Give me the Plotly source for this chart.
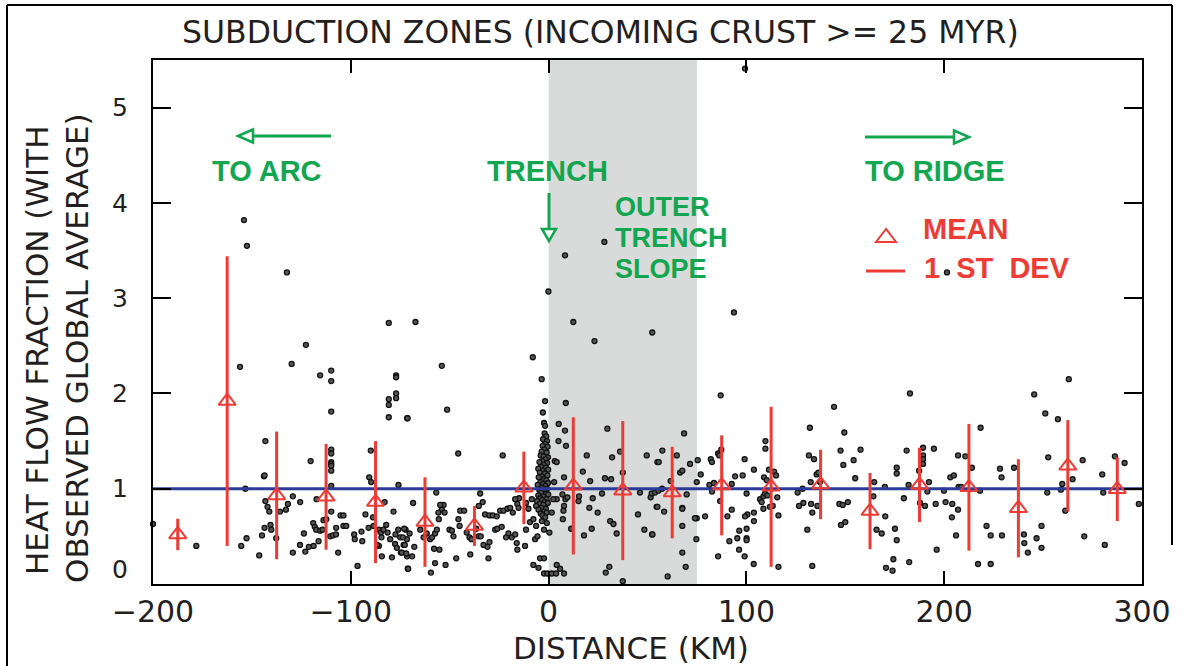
import plotly.graph_objects as go

# ---------------- data ----------------
DOT_X = [
    # far arc side
    -200.0, -178.1, -80.8, -122.7, -156.0, -129.9, -115.5, -109.9, -109.9, -109.9,
    -77.1, -77.1, -77.1, -77.1, -80.8, -80.8, -80.8, -71.5, -143.2, -120.3,
    -109.9, -109.9, -109.9, -109.9, -109.9, -109.9, -109.9, -143.9, -143.6, -89.9,
    -90.7, -89.7, -153.3, -75.9, -143.2, -142.1, -141.2, -135.8, -132.8, -131.8,
    -129.3, -125.6, -117.3, -143.6, -140.6, -140.2, -144.9, -137.7, -146.3, -152.7,
    -155.4, -129.3, -125.7, -123.7, -123.0, -121.2, -118.8, -116.3, -119.0, -118.2,
    -117.5, -115.5, -113.8, -112.4, -114.3, -109.9, -110.4, -109.1, -107.5, -107.4,
    -106.4, -105.2, -103.7, -103.7, -102.3, -98.3, -98.0, -94.2, -94.6, -92.6,
    -91.0, -88.8, -88.5, -96.6, -85.8, -84.8, -83.5, -84.5, -81.4, -82.1,
    -82.9, -78.4, -80.1, -76.0, -75.0, -77.4, -77.6, -76.7, -73.3, -72.3,
    -71.6, -85.8, -86.7, -84.3, -79.2, -74.7, -71.6, -71.2,
    # forearc near trench
    -67.3, -54.0, -51.3, -71.3, -45.7, -23.2, -8.0, -3.5, -1.8, -2.9,
    -2.3, -1.8, -56.8, -68.5, -53.1, -54.8, -54.0, -52.6, -55.7, -55.5,
    -44.7, -42.7, -34.6, -33.3, -35.3, -32.1, -29.9, -28.2, -26.2, -24.5,
    -22.8, -20.8, -19.4, -18.1, -15.8, -15.2, -14.9, -16.9, -11.4, -10.2,
    -8.5, -73.0, -73.7, -70.3, -72.7, -74.2, -72.0, -69.0, -67.9, -71.0,
    -64.9, -63.2, -61.6, -59.9, -58.9, -57.4, -56.5, -57.9, -55.2, -57.4,
    -59.5, -52.1, -46.7, -50.1, -48.9, -48.1, -45.6, -45.0, -41.4, -40.0,
    -39.0, -39.6, -36.6, -35.4, -34.3, -32.9, -30.9, -29.9, -30.4, -27.0,
    -25.9, -23.7, -20.3, -18.6, -21.5, -16.9, -16.1, -15.8, -11.9, -11.4,
    -9.4, -7.7, -6.8, -5.6, -6.3, -3.4, -2.3, -0.9, 0.4, -4.3,
    -2.3, -7.7, -5.1, -2.3, -0.6, 1.6, 3.8, 4.1, 5.8, 7.8,
    # trench cluster
    -2.0, -1.2, -2.8, -0.8, -1.8, -3.0, -0.5, -2.2, -3.5, -1.0,
    -4.0, -2.5, -0.3, -1.6, -3.2, -4.6, -0.8, -2.4, -3.8, -5.2,
    -1.4, -0.2, -2.9, -4.4, -1.9, -0.6, -3.5, -5.0, -2.3, -1.1,
    -4.1, -0.3, -2.8, -5.5, -1.6, -3.4, -0.8, -4.7, -2.1, -3.8,
    -1.3, -0.2, -5.2, -2.7, -4.2, -1.0, -3.2, -5.8, -1.9, -0.4,
    -4.5, -2.6, -6.3, -3.6, -1.4, -5.1, -2.4, -0.9, -4.0, -3.0,
    -1.7,
    # outer trench slope
    12.5, 23.2, 52.4, 8.7, 5.1, 8.3, 8.8, 5.0, 3.1, 4.1,
    7.8, 17.3, 19.3, 21.0, 29.7, 32.1, 28.5, 31.6, 36.1, 37.5,
    49.6, 55.0, 2.8, 7.0, 8.5, 7.8, 7.5, 7.2, 4.1, 2.4,
    1.6, 15.4, 15.1, 11.4, 17.9, 20.6, 22.3, 21.8, 24.8, 27.0,
    31.1, 32.8, 34.4, 46.2, 45.2, 48.4, 52.3, 51.6, 54.6, 28.9,
    30.7, 37.5, 9.5,
    # oceanward
    93.7, 87.0, 144.3, 132.1, 149.5, 68.5, 57.5, 55.7, 64.8, 66.5,
    67.6, 71.5, 75.4, 76.9, 74.9, 82.0, 82.6, 85.7, 86.3, 87.3,
    81.3, 83.6, 82.6, 92.6, 94.3, 98.1, 99.1, 103.8, 109.6, 109.6,
    108.9, 110.3, 111.4, 114.0, 115.0, 100.1, 106.9, 107.7, 108.6, 109.4,
    110.6, 115.6, 108.6, 111.9, 113.3, 116.2, 103.8, 100.5, 99.3, 103.8,
    100.1, 96.4, 95.4, 100.1, 100.1, 91.4, 96.3, 99.1, 103.7, 116.2,
    85.7, 90.4, 92.6, 86.7, 79.1, 74.9, 74.0, 74.7, 67.6, 67.6,
    69.8, 58.4, 55.0, 52.1, 53.8, 55.5, 57.4, 61.7, 67.6, 52.5,
    67.6, 69.3, 60.2, 125.9, 128.4, 126.6, 128.8, 132.7, 131.6, 134.2,
    132.5, 135.5, 136.4, 137.2, 133.3, 130.8, 135.9, 133.3, 147.6, 149.0,
    155.0, 154.2, 157.7, 147.0, 148.7, 151.3, 147.8, 150.0, 164.6, 164.2,
    170.0, 170.2, 165.8, 168.4, 176.0, 176.0, 175.1, 176.0, 174.3, 170.6,
    173.9, 179.6, 181.0, 182.0, 182.3,
    182.7, 263.0, 245.5, 251.1, 257.5, 218.4, 189.3, 189.3, 189.3, 189.3,
    194.8, 187.3, 192.3, 191.5, 187.8, 190.3, 195.7, 199.9, 200.7, 204.1,
    203.1, 204.9, 207.0, 210.7, 214.0, 207.3, 208.6, 218.1, 203.9, 207.0,
    206.0, 196.2, 217.1, 223.5, 221.4, 223.5, 229.2, 228.2, 229.0, 235.3,
    240.3, 240.5, 242.3, 246.7, 249.2, 249.2, 252.6, 252.1, 259.7, 259.0,
    261.2, 264.9, 270.0, 270.8, 279.9, 280.4, 281.2, 286.3, 291.2, 298.4,
    # high values
    -154.0, -152.5, -132.3, 8.3, 28.2, -0.1, 99.3, 201.4,
]

DOT_Y = [
    0.63, 0.40, 2.74, 2.51, 2.28, 2.31, 2.19, 2.24, 2.13, 1.81,
    2.19, 2.17, 2.00, 1.95, 1.94, 1.88, 1.75, 1.74, 1.50, 1.29,
    1.41, 1.37, 1.28, 1.26, 1.24, 1.19, 1.03, 1.13, 1.14, 1.40,
    1.12, 1.07, 1.00, 1.04, 0.87, 0.81, 0.76, 0.76, 0.78, 0.84,
    0.92, 0.86, 0.89, 0.59, 0.62, 0.57, 0.51, 0.48, 0.30, 0.48,
    0.40, 0.33, 0.41, 0.53, 0.34, 0.39, 0.40, 0.45, 0.64, 0.60,
    0.57, 0.56, 0.67, 0.68, 0.57, 0.76, 0.50, 0.51, 0.52, 0.59,
    0.33, 0.72, 0.72, 0.61, 0.61, 0.52, 0.47, 0.45, 0.55, 0.73,
    0.59, 0.70, 0.61, 0.19, 0.57, 0.54, 0.57, 0.49, 0.54, 0.62,
    0.86, 0.76, 0.47, 0.57, 0.49, 0.52, 0.42, 0.38, 0.41, 0.57,
    0.47, 0.40, 0.41, 0.29, 0.28, 0.33, 0.29, 0.16,
    2.75, 2.29, 1.83, 1.74, 1.37, 1.35, 2.38, 2.15, 1.92, 1.80,
    1.69, 1.66, 0.96, 0.85, 0.83, 0.83, 0.78, 0.75, 0.75, 0.68,
    0.77, 0.77, 0.95, 0.86, 0.82, 0.73, 0.72, 0.72, 0.71, 0.77,
    0.77, 0.79, 0.80, 0.75, 0.84, 0.80, 0.90, 0.89, 0.85, 0.79,
    0.89, 0.58, 0.49, 0.53, 0.41, 0.33, 0.32, 0.29, 0.39, 0.16,
    0.57, 0.49, 0.53, 0.47, 0.49, 0.53, 0.57, 0.37, 0.36, 0.22,
    0.12, 0.20, 0.27, 0.57, 0.56, 0.50, 0.68, 0.61, 0.54, 0.49,
    0.47, 0.31, 0.58, 0.50, 0.50, 0.41, 0.39, 0.44, 0.27, 0.57,
    0.58, 0.60, 0.53, 0.49, 0.49, 0.52, 0.43, 0.36, 0.40, 0.57,
    0.65, 0.68, 0.47, 0.50, 0.61, 0.66, 0.57, 0.64, 0.54, 0.27,
    0.27, 0.20, 0.17, 0.11, 0.11, 0.11, 0.11, 0.20, 0.16, 0.11,
    1.58, 1.55, 1.52, 1.50, 1.47, 1.45, 1.44, 1.41, 1.39, 1.38,
    1.35, 1.34, 1.33, 1.31, 1.29, 1.28, 1.27, 1.25, 1.23, 1.21,
    1.22, 1.20, 1.19, 1.17, 1.16, 1.14, 1.13, 1.12, 1.10, 1.09,
    1.07, 1.06, 1.05, 1.04, 1.03, 1.01, 1.00, 0.99, 0.98, 0.96,
    0.95, 0.94, 0.93, 0.92, 0.90, 0.89, 0.88, 0.87, 0.86, 0.85,
    0.84, 0.83, 0.82, 0.80, 0.79, 0.78, 0.76, 0.75, 0.74, 0.72,
    0.70,
    2.75, 2.55, 2.64, 1.90, 1.68, 1.61, 1.45, 1.50, 1.29, 1.28,
    1.12, 1.18, 1.35, 1.08, 1.63, 1.33, 1.11, 1.10, 1.39, 1.17,
    1.35, 1.28, 1.07, 0.94, 0.89, 0.82, 0.77, 0.68, 0.89, 0.89,
    0.75, 0.92, 0.87, 0.58, 0.51, 0.80, 0.90, 0.58, 0.75, 0.95,
    0.66, 0.63, 0.53, 0.96, 0.73, 0.57, 0.52, 0.91, 0.81, 0.12,
    0.18, 0.03, 0.91,
    2.85, 1.98, 1.86, 1.64, 1.59, 1.58, 1.40, 1.28, 1.35, 1.17,
    1.19, 1.26, 1.30, 1.15, 1.07, 1.31, 1.28, 1.37, 1.35, 1.41,
    1.04, 1.06, 0.97, 1.05, 1.13, 1.14, 1.31, 1.20, 1.50, 1.42,
    1.12, 1.09, 1.20, 1.18, 1.14, 0.95, 0.89, 0.86, 0.92, 0.95,
    0.93, 0.91, 0.79, 0.81, 0.82, 0.72, 0.75, 0.73, 0.71, 0.66,
    0.58, 0.56, 0.48, 0.48, 0.46, 0.45, 0.36, 0.29, 0.21, 0.18,
    0.29, 0.71, 0.78, 0.87, 0.71, 0.69, 0.69, 0.47, 0.80, 0.79,
    0.94, 0.76, 0.81, 0.95, 0.96, 0.98, 1.00, 1.08, 0.61, 0.52,
    0.33, 0.18, 0.08, 0.96, 1.00, 0.82, 0.85, 0.84, 1.35, 1.31,
    1.07, 1.15, 1.17, 1.07, 0.75, 0.57, 0.82, 0.19, 1.40, 1.25,
    1.11, 1.30, 1.41, 0.84, 0.83, 0.86, 0.62, 0.65, 1.07, 0.92,
    1.02, 0.71, 0.57, 0.53, 1.22, 1.16, 0.58, 0.46, 0.26, 0.17,
    0.14, 0.90, 1.40, 1.04, 0.23,
    2.00, 2.15, 1.99, 1.79, 1.73, 1.64, 1.43, 1.35, 1.31, 1.26,
    1.42, 1.19, 1.07, 0.97, 0.85, 0.82, 0.84, 0.98, 0.86, 0.84,
    1.12, 1.14, 1.35, 1.34, 1.22, 1.02, 1.02, 0.98, 0.70, 0.78,
    0.51, 0.36, 0.21, 0.21, 0.61, 0.51, 0.51, 1.21, 1.12, 1.22,
    0.52, 0.43, 0.33, 0.48, 0.61, 0.38, 1.33, 0.96, 1.05, 0.99,
    0.77, 1.10, 1.30, 0.50, 1.15, 0.96, 0.41, 1.34, 1.27, 0.84,
    3.82, 3.55, 3.27, 3.45, 3.59, 3.07, 5.41, 3.27,
]

BIN_CENTERS = [-187.5, -162.5, -137.5, -112.5, -87.5, -62.5, -37.5, -12.5, 12.5, 37.5,
               62.5, 87.5, 112.5, 137.5, 162.5, 187.5, 212.5, 237.5, 262.5, 287.5]
BIN_MEAN = [0.52, 1.92, 0.93, 0.915, 0.86, 0.65, 0.61, 1.01, 1.03, 0.98,
            0.96, 1.035, 1.02, 1.045, 0.765, 1.04, 1.015, 0.795, 1.24, 0.995]
BIN_STD = [0.165, 1.52, 0.67, 0.555, 0.64, 0.47, 0.21, 0.38, 0.72, 0.73,
           0.48, 0.525, 0.84, 0.365, 0.40, 0.39, 0.665, 0.515, 0.48, 0.335]

REF_LEVEL = 1.0
SLOPE_ZONE = [0, 75]
X_RANGE = [-200, 300]
Y_RANGE = [0, 5.5]
X_TICKS = [-200, -100, 0, 100, 200, 300]
X_TICKTEXT = ["\u2212200", "\u2212100", "0", "100", "200", "300"]
Y_TICKS = [1, 2, 3, 4, 5]
Y_TICKTEXT = ["1", "2", "3", "4", "5"]

# ---------------- styling ----------------
W, H = 1184, 666
L, R, T, B = 153, 1142, 60, 584
BLACK = "#231f20"
GREEN = "#12a650"
RED = "#ee3b33"
BLUE = "#2b3c98"
GRAY = "#d9dada"
FONT = "DejaVu Sans"
BFONT = "Liberation Sans"


def pxx(px):
    return (px - L) / (R - L)


def pyy(py):
    return (B - py) / (B - T)


fig = go.Figure()

fig.add_trace(go.Scatter(
    x=DOT_X, y=DOT_Y, mode="markers", cliponaxis=False,
    marker=dict(size=5, color="#555555", line=dict(color="#111111", width=1.3)),
    hoverinfo="skip", showlegend=False))

fig.add_trace(go.Scatter(
    x=X_RANGE, y=[REF_LEVEL, REF_LEVEL], mode="lines",
    line=dict(color=BLUE, width=3), hoverinfo="skip", showlegend=False))

fig.add_trace(go.Scatter(
    x=BIN_CENTERS, y=BIN_MEAN, mode="markers",
    marker=dict(symbol="triangle-up-open", size=15, color=RED, line=dict(color=RED, width=2)),
    error_y=dict(type="data", array=BIN_STD, visible=True, color=RED, thickness=3, width=0),
    hoverinfo="skip", showlegend=False))

shapes = []
# outer-trench-slope band
shapes.append(dict(type="rect", xref="x", yref="y", x0=SLOPE_ZONE[0], x1=SLOPE_ZONE[1],
                   y0=Y_RANGE[0], y1=Y_RANGE[1], fillcolor=GRAY, line=dict(width=0), layer="below"))

# outer frame
for (x0, y0, x1, y1) in [(7, 5, 7, 666), (7, 5, 1172, 5), (1172, 5, 1172, 545)]:
    shapes.append(dict(type="line", xref="paper", yref="paper",
                       x0=pxx(x0), y0=pyy(y0), x1=pxx(x1), y1=pyy(y1),
                       line=dict(color="black", width=2)))


def arrow(x0, y0, x1, y1, color, head=15, half=6.5):
    # line from (x0,y0) to tip (x1,y1), open triangular head (pixel coords)
    out = []
    dx, dy = x1 - x0, y1 - y0
    n = (dx * dx + dy * dy) ** 0.5
    ux, uy = dx / n, dy / n
    bx, by = x1 - ux * head, y1 - uy * head
    out.append(dict(type="line", xref="paper", yref="paper",
                    x0=pxx(x0), y0=pyy(y0), x1=pxx(bx), y1=pyy(by),
                    line=dict(color=color, width=3)))
    px_, py_ = -uy, ux
    pts = [(x1, y1), (bx + px_ * half, by + py_ * half), (bx - px_ * half, by - py_ * half)]
    path = "M {} {} L {} {} L {} {} Z".format(*[v for p in pts for v in (pxx(p[0]), pyy(p[1]))])
    out.append(dict(type="path", xref="paper", yref="paper", path=path,
                    fillcolor="white", line=dict(color=color, width=2.5)))
    return out


shapes += arrow(331, 136, 238, 136, GREEN)
shapes += arrow(865, 137, 969, 137, GREEN)
shapes += arrow(549, 193, 549, 241, GREEN, head=12, half=7)

# legend symbols
tri = [(886, 229), (876, 242), (896, 242)]
shapes.append(dict(type="path", xref="paper", yref="paper",
                   path="M {} {} L {} {} L {} {} Z".format(*[v for p in tri for v in (pxx(p[0]), pyy(p[1]))]),
                   fillcolor="rgba(0,0,0,0)", line=dict(color=RED, width=2)))
shapes.append(dict(type="line", xref="paper", yref="paper", x0=pxx(866), x1=pxx(905),
                   y0=pyy(271), y1=pyy(271), line=dict(color=RED, width=3)))

ann = []


def text(s, px, py, size, color=BLACK, family=FONT, xanchor="center", angle=0, bold=False):
    ann.append(dict(text=("<b>%s</b>" % s) if bold else s, xref="paper", yref="paper",
                    x=pxx(px), y=pyy(py), xanchor=xanchor, yanchor="middle",
                    showarrow=False, textangle=angle, borderpad=0,
                    font=dict(family=family, size=size, color=color)))


text("SUBDUCTION ZONES (INCOMING CRUST &gt;= 25 MYR)", 600, 32, 31.5)
text("DISTANCE (KM)", 631, 648, 31)
text("HEAT FLOW FRACTION (WITH", 37, 351, 31, angle=-90)
text("OBSERVED GLOBAL AVERAGE)", 77, 348, 31, angle=-90)
text("0", 120, 569, 25)

text("TO ARC", 267, 171, 29, GREEN, BFONT, bold=True)
text("TRENCH", 547, 171, 29, GREEN, BFONT, bold=True)
text("OUTER", 614, 207, 27, GREEN, BFONT, xanchor="left", bold=True)
text("TRENCH", 614, 238, 27, GREEN, BFONT, xanchor="left", bold=True)
text("SLOPE", 614, 269, 27, GREEN, BFONT, xanchor="left", bold=True)
text("TO RIDGE", 935, 171, 29, GREEN, BFONT, bold=True)
text("MEAN", 922, 229, 29, RED, BFONT, xanchor="left", bold=True)
text("1&nbsp;&nbsp;ST&nbsp;&nbsp;DEV", 923, 268, 29, RED, BFONT, xanchor="left", bold=True)

fig.update_layout(
    width=W, height=H, autosize=False,
    margin=dict(l=L, r=W - R, t=T, b=H - B, pad=0),
    paper_bgcolor="white", plot_bgcolor="white",
    shapes=shapes, annotations=ann, showlegend=False,
    font=dict(family=FONT, color=BLACK),
)

fig.update_xaxes(
    range=X_RANGE, tickvals=X_TICKS, ticktext=X_TICKTEXT,
    ticks="inside", ticklen=13, tickwidth=2, tickcolor="black",
    showline=True, linecolor="black", linewidth=2, mirror="ticks",
    showgrid=False, zeroline=False, ticklabelstandoff=0,
    tickfont=dict(family=FONT, size=30, color=BLACK),
)
fig.update_yaxes(
    range=Y_RANGE, tickvals=Y_TICKS, ticktext=Y_TICKTEXT,
    ticks="inside", ticklen=18, tickwidth=2, tickcolor="black",
    showline=True, linecolor="black", linewidth=2, mirror="ticks",
    showgrid=False, zeroline=False, ticklabelstandoff=18,
    tickfont=dict(family=FONT, size=25, color=BLACK),
)

fig.write_html("out.html", config={"displayModeBar": False},
               post_script="document.body.style.margin='0';document.body.style.overflow='hidden';")
